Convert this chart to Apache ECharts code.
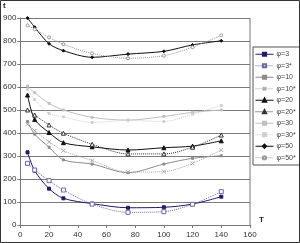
<!DOCTYPE html>
<html><head><meta charset="utf-8">
<script src="https://cdn.jsdelivr.net/npm/echarts@6/dist/echarts.min.js"></script>
<style>html,body{margin:0;padding:0;background:#fff}#c{width:300px;height:243px}</style>
</head><body><div id="c"></div>
<script>
const xValues = [5, 10, 20, 30, 50, 75, 100, 120, 140];
const seriesNames = ['φ=3', 'φ=3*', 'φ=10', 'φ=10*', 'φ=20', 'φ=20*', 'φ=30', 'φ=30*', 'φ=50', 'φ=50*'];
const phi3 = [316, 236, 158, 116, 93, 75, 77, 91, 123];
const phi3s = [268, 239, 193, 152, 91, 55, 58, 90, 145];
const phi10 = [450, 395, 338, 283, 265, 227, 265, 290, 301];
const phi10s = [438, 410, 362, 323, 280, 230, 232, 268, 326];
const phi20 = [565, 459, 402, 358, 340, 326, 336, 343, 366];
const phi20s = [500, 478, 435, 399, 351, 309, 309, 338, 391];
const phi30 = [604, 575, 529, 500, 468, 456, 472, 490, 500];
const phi30s = [590, 545, 485, 470, 446, 455, 450, 482, 520];
const phi50 = [900, 860, 788, 758, 729, 743, 755, 783, 801];
const phi50s = [868, 851, 816, 786, 746, 725, 736, 773, 825];
const yTicks = [0, 100, 200, 300, 400, 500, 600, 700, 800, 900];
const xTicks = [0, 20, 40, 60, 80, 100, 120, 140, 160];
const yName = 't';
const xName = 'T';

const allValues = [phi3, phi3s, phi10, phi10s, phi20, phi20s, phi30, phi30s, phi50, phi50s];
const styles = [
  {color:'#1c1c6a', type:'solid', width:1, symbol:'rect', size:3, fill:'#1c1c6a'},
  {color:'#6a6aa8', type:'dotted', width:1, symbol:'rect', size:4, fill:'#fff'},
  {color:'#8c8c8c', type:'solid', width:1, symbol:'rect', size:2, fill:'#8c8c8c'},
  {color:'#aaaaaa', type:'dotted', width:1, symbol:'path://M0,0L10,10M10,0L0,10', size:4, fill:'#aaaaaa'},
  {color:'#111', type:'solid', width:1, symbol:'triangle', size:4, fill:'#111'},
  {color:'#333', type:'dotted', width:1, symbol:'triangle', size:4, fill:'#fff'},
  {color:'#c0c0c0', type:'solid', width:1, symbol:'rect', size:2, fill:'#c0c0c0'},
  {color:'#d0d0d0', type:'dotted', width:1, symbol:'rect', size:2, fill:'#d0d0d0'},
  {color:'#111', type:'solid', width:1, symbol:'diamond', size:3, fill:'#111'},
  {color:'#999', type:'dotted', width:1, symbol:'circle', size:3, fill:'#fff'}
];

const series = seriesNames.map((n, i) => ({
  name: n, type: 'line', smooth: 0.3,
  data: xValues.map((x, j) => [x, allValues[i][j]]),
  symbol: styles[i].symbol, symbolSize: styles[i].size, showSymbol: true,
  lineStyle: {color: styles[i].color, type: styles[i].type, width: styles[i].width},
  itemStyle: {color: styles[i].fill, borderColor: styles[i].color, borderWidth: 1},
  emphasis: {disabled: true}, animation: false
}));

const chart = echarts.init(document.getElementById('c'), null, {renderer: 'canvas'});
chart.setOption({
  animation: false,
  backgroundColor: '#fff',
  grid: {left: 20, right: 50, top: 18, bottom: 18, containLabel: false},
  xAxis: {
    type: 'value', min: 0, max: 160, interval: 20,
    axisLine: {show: true, lineStyle: {color: '#777', width: 1}},
    axisTick: {show: true, length: 3, lineStyle: {color: '#777'}},
    axisLabel: {fontFamily: 'Liberation Sans', fontSize: 8, color: '#333', margin: 6},
    splitLine: {show: false}
  },
  yAxis: {
    type: 'value', min: 0, max: 900, interval: 100,
    axisLine: {show: true, lineStyle: {color: '#777', width: 1}},
    axisTick: {show: true, length: 3, lineStyle: {color: '#777'}},
    axisLabel: {fontFamily: 'Liberation Sans', fontSize: 8, color: '#333', margin: 4},
    splitLine: {show: true, lineStyle: {color: '#7a7a7a', width: 1}}
  },
  legend: {
    orient: 'vertical', left: 253, top: 47,
    padding: [3, 8, 3, 2], itemGap: 3, itemWidth: 18, itemHeight: 4,
    borderColor: '#555', borderWidth: 1, backgroundColor: '#fff',
    lineStyle: {width: 1},
    textStyle: {fontFamily: 'Liberation Sans', fontSize: 7, color: '#444', padding: [0, 0, 0, -2], lineHeight: 8.5},
    data: seriesNames
  },
  graphic: [
    {type: 'line', shape: {x1: 250, y1: 18, x2: 250, y2: 225}, style: {stroke: '#777', lineWidth: 1}, z: 10},
    {type: 'text', left: 3, top: 2, style: {text: yName, font: 'bold 8px "Liberation Sans"', fill: '#222'}},
    {type: 'text', left: 259, top: 216, style: {text: xName, font: 'bold 8px "Liberation Sans"', fill: '#222'}},
    {type: 'rect', shape: {x: 0.5, y: 0.5, width: 299, height: 242}, style: {stroke: '#333', fill: 'none', lineWidth: 1}, z: 20}
  ],
  series: series
});
</script></body></html>
